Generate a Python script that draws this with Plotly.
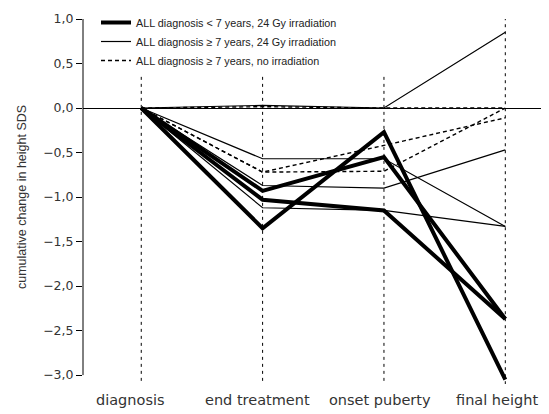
import plotly.graph_objects as go

stages = ["diagnosis", "end treatment", "onset puberty", "final height"]
stage_pos = [1, 2, 3, 4]

# < 7 years, 24 Gy (thick)
young_irr = [
    [0.0, -1.35, -0.27, -3.05],
    [0.0, -0.93, -0.55, -2.37],
    [0.0, -1.03, -1.15, -2.37],
]
# >= 7 years, 24 Gy (thin)
old_irr = [
    [0.0, 0.03, 0.0, 0.85],
    [0.0, -0.57, -0.57, -1.33],
    [0.0, -0.87, -0.90, -0.47],
    [0.0, -1.12, -1.15, -1.33],
]
# >= 7 years, no irradiation (dashed)
old_noirr = [
    [0.0, -0.72, -0.42, -0.11],
    [0.0, -0.72, -0.71, 0.0],
    [0.0, 0.015, 0.0, 0.0],
]

groups = [
    ("ALL diagnosis < 7 years, 24 Gy irradiation", young_irr, 4.0, "solid"),
    ("ALL diagnosis \u2265 7 years, 24 Gy irradiation", old_irr, 1.2, "solid"),
    ("ALL diagnosis \u2265 7 years, no irradiation", old_noirr, 1.4, "4px,3px"),
]

fig = go.Figure()
for gi, (name, series, w, dash) in enumerate(groups):
    for si, vals in enumerate(series):
        fig.add_trace(go.Scatter(
            x=stage_pos, y=vals, mode="lines", name=name,
            legendgroup=f"g{gi}", showlegend=(si == 0),
            line=dict(color="black", width=w, dash=dash),
        ))

# vertical dotted guides at each stage
guide_top = [0.35, 0.35, 0.35, 1.02]
for xp, top in zip(stage_pos, guide_top):
    fig.add_shape(type="line", xref="x", yref="y", x0=xp, x1=xp, y0=top, y1=-3.1,
                  line=dict(color="black", width=1, dash="3px,4px"), layer="below")

# y-axis line spanning only the labelled range
fig.add_shape(type="line", xref="paper", yref="y", x0=0, x1=0, y0=1, y1=-3,
              line=dict(color="black", width=1))

# stage labels
label_pos = [0.91, 1.954, 2.967, 3.93]
for lab, xp in zip(stages, label_pos):
    fig.add_annotation(x=xp, y=-3.0, xref="x", yref="y", text=lab, showarrow=False,
                       yshift=-25, font=dict(family="DejaVu Sans, sans-serif", size=14.5, color="#333"))

# y-axis title
fig.add_annotation(x=-0.131, y=(1 - 3) / 2, xref="paper", yref="y", xanchor="center", yanchor="middle",
                   text="cumulative change in height SDS", textangle=-90, showarrow=False,
                   font=dict(size=12.5, color="#333"))

# page has an 8px body margin: figure sized to fit the window
fig.update_layout(
    width=541, height=406,
    margin=dict(l=75, r=0, t=11, b=30, autoexpand=False),
    paper_bgcolor="white", plot_bgcolor="white",
    separators=", ",
    font=dict(family="Liberation Sans, Arial, sans-serif", color="#222"),
    showlegend=True,
    legend=dict(xref="container", yref="container", x=88 / 541, y=1.0 + 2 / 406,
                xanchor="left", yanchor="top",
                font=dict(size=10.8, color="#222"), bgcolor="rgba(0,0,0,0)",
                tracegroupgap=0, itemwidth=30),
    xaxis=dict(range=[0.52, 4.36], showgrid=False, zeroline=False, showline=False,
               showticklabels=False, ticks=""),
    yaxis=dict(range=[-3.1, 1], showgrid=False, showline=False,
               ticks="outside", ticklen=6, tickcolor="black", tickvals=[1, 0.5, 0, -0.5, -1, -1.5, -2, -2.5, -3],
               tickformat=".1f", tickfont=dict(family="DejaVu Sans, sans-serif", size=12.5, color="#333"),
               zeroline=True, zerolinecolor="black", zerolinewidth=1),
)

fig.write_html("out.html")
